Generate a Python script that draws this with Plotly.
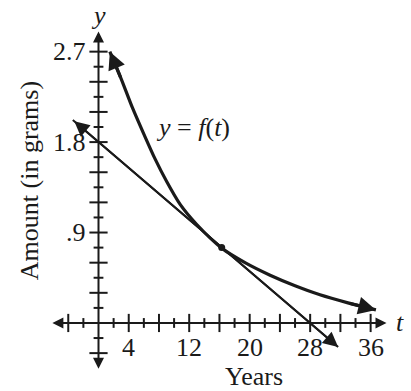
import plotly.graph_objects as go

# ---- data ----
curve_t = [1.5, 3.0, 4.5, 6.0, 7.5, 9.0, 10.8, 13.0, 16.3, 19.5, 22.7, 26.0, 29.3, 33.0, 36.7]
curve_y = [2.70, 2.43, 2.14, 1.88, 1.63, 1.41, 1.18, 0.98, 0.745, 0.595, 0.475, 0.37, 0.28, 0.20, 0.13]
tangent_t = [-3.4, 31.7]
tangent_y = [2.02, -0.24]
point_t = [16.3]
point_y = [0.75]

x_major = [-4, 4, 8, 12, 16, 20, 24, 28, 32, 36]
x_minor = [-2, 2, 6, 10, 14, 18, 22, 26, 30, 34]
x_label_vals = [4, 12, 20, 28, 36]
x_label_text = ["4", "12", "20", "28", "36"]

y_major = [-0.3, 0.3, 0.6, 0.9, 1.2, 1.5, 1.8, 2.1, 2.4, 2.7]
y_minor = [-0.15, 0.15, 0.45, 0.75, 1.05, 1.35, 1.65, 1.95, 2.25, 2.55]
y_label_vals = [0.9, 1.8, 2.7]
y_label_text = [".9", "1.8", "2.7"]

x_axis_ends = [-6.3, 38.1]
y_axis_ends = [-0.47, 2.9]

FONT = "Liberation Serif, Times New Roman, serif"
FS = 26
INK = "#1a1a1a"

fig = go.Figure()


def tick_trace(xs, ys, symbol, size):
    return go.Scatter(x=xs, y=ys, mode="markers",
                      marker=dict(symbol=symbol, size=size, color=INK,
                                  line=dict(width=2, color=INK)),
                      hoverinfo="skip")


fig.add_trace(tick_trace(x_major, [0] * len(x_major), "line-ns-open", 13))
fig.add_trace(tick_trace(x_minor, [0] * len(x_minor), "line-ns-open", 7))
fig.add_trace(tick_trace([0] * len(y_major), y_major, "line-ew-open", 13))
fig.add_trace(tick_trace([0] * len(y_minor), y_minor, "line-ew-open", 7))

# tangent line
fig.add_trace(go.Scatter(x=tangent_t, y=tangent_y, mode="lines",
                         line=dict(color=INK, width=2), hoverinfo="skip"))
# curve
fig.add_trace(go.Scatter(x=curve_t, y=curve_y, mode="lines",
                         line=dict(color=INK, width=3.2, shape="spline", smoothing=0.8),
                         hoverinfo="skip"))
# point of tangency
fig.add_trace(go.Scatter(x=point_t, y=point_y, mode="markers",
                         marker=dict(size=7, color=INK), hoverinfo="skip"))

ann = []
# axes with arrowheads
ann.append(dict(x=x_axis_ends[1], y=0, ax=x_axis_ends[0], ay=0, xref="x", yref="y",
                axref="x", ayref="y", text="", showarrow=True, arrowside="end+start",
                arrowhead=2, startarrowhead=2, arrowsize=1.1, startarrowsize=1.1,
                arrowwidth=2, arrowcolor=INK))
ann.append(dict(x=0, y=y_axis_ends[1], ax=0, ay=y_axis_ends[0], xref="x", yref="y",
                axref="x", ayref="y", text="", showarrow=True, arrowside="end+start",
                arrowhead=2, startarrowhead=2, arrowsize=1.1, startarrowsize=1.1,
                arrowwidth=2, arrowcolor=INK))
# tangent arrowheads
ann.append(dict(x=tangent_t[1], y=tangent_y[1], ax=tangent_t[0], ay=tangent_y[0], xref="x", yref="y",
                axref="x", ayref="y", text="", showarrow=True, arrowside="end+start",
                arrowhead=2, startarrowhead=2, arrowsize=1.5, startarrowsize=1.5,
                arrowwidth=2, arrowcolor=INK))
# curve arrowheads
ann.append(dict(x=curve_t[0], y=curve_y[0], ax=curve_t[1], ay=curve_y[1], xref="x", yref="y",
                axref="x", ayref="y", text="", showarrow=True,
                arrowhead=2, arrowsize=1.1, arrowwidth=3.2, arrowcolor=INK))
ann.append(dict(x=curve_t[-1], y=curve_y[-1], ax=curve_t[-2], ay=curve_y[-2], xref="x", yref="y",
                axref="x", ayref="y", text="", showarrow=True,
                arrowhead=2, arrowsize=1.1, arrowwidth=3.2, arrowcolor=INK))

# tick labels
for v, s in zip(x_label_vals, x_label_text):
    ann.append(dict(x=v, y=0, xref="x", yref="y", text=s, showarrow=False,
                    yanchor="middle", yshift=-25, font=dict(family=FONT, size=FS, color=INK)))
for v, s in zip(y_label_vals, y_label_text):
    ann.append(dict(x=0, y=v, xref="x", yref="y", text=s, showarrow=False,
                    xanchor="right", xshift=-11, font=dict(family=FONT, size=FS, color=INK)))

# axis names
ann.append(dict(x=0, y=3.06, xref="x", yref="y", text="<i>y</i>", showarrow=False,
                font=dict(family=FONT, size=FS, color=INK)))
ann.append(dict(x=39.9, y=0, xref="x", yref="y", text="<i>t</i>", showarrow=False,
                font=dict(family=FONT, size=FS, color=INK)))
ann.append(dict(x=12.5, y=1.95, xref="x", yref="y", text="<i>y</i> = <i>f</i>(<i>t</i>)",
                showarrow=False, font=dict(family=FONT, size=FS, color=INK)))
ann.append(dict(x=20.6, y=-0.535, xref="x", yref="y", text="Years", showarrow=False,
                font=dict(family=FONT, size=FS, color=INK)))
ann.append(dict(x=-9.2, y=1.42, xref="x", yref="y", text="Amount (in grams)", showarrow=False,
                textangle=-90, font=dict(family=FONT, size=FS, color=INK)))

fig.update_layout(
    width=411, height=391,
    margin=dict(l=0, r=0, t=0, b=0),
    paper_bgcolor="white", plot_bgcolor="white",
    showlegend=False,
    xaxis=dict(range=[-13.03, 41.34], visible=False, fixedrange=True),
    yaxis=dict(range=[-0.677, 3.214], visible=False, fixedrange=True),
    annotations=ann,
)

fig.write_html("out.html", config={"displayModeBar": False},
               post_script="document.body.style.margin='0';document.body.style.overflow='hidden';")
